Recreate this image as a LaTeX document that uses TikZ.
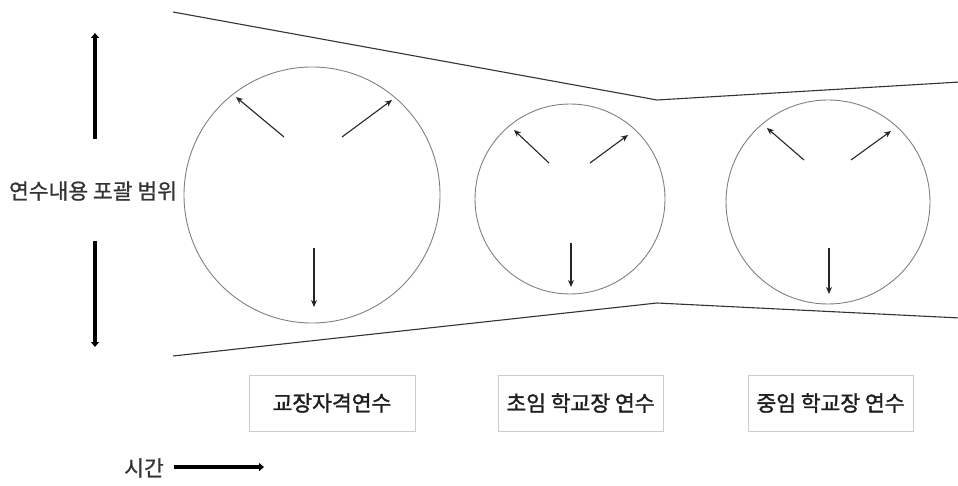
\documentclass[tikz,border=0pt]{standalone}
\usepackage{fontspec}
\setmainfont{Noto Sans CJK KR}
\newfontfamily\krbox{Noto Sans CJK KR}[FakeBold=1.6]
\newfontfamily\krlab{Noto Sans CJK KR}[FakeBold=0.8]
\usetikzlibrary{arrows.meta,calc}
\begin{document}
\begin{tikzpicture}[x=1pt,y=-1pt,
  funnel/.style={draw=black!80, line width=1.1pt},
  circ/.style={circle, draw=black!50, line width=0.9pt, inner sep=0pt},
  inarrow/.style={draw=black!85, line width=1.1pt, -{Stealth[length=7pt,width=6pt]}},
  bigarrow/.style={draw=black, line width=4.2pt, -{Triangle[length=5pt,width=8pt]}},
  labelbox/.style={draw=black!20, line width=0.9pt, minimum width=166pt, minimum height=56pt, inner sep=0pt, text=black!88, font=\krbox\fontsize{21.5}{24}\selectfont},
  txt/.style={font=\krlab\fontsize{21.5}{24}\selectfont, text=black!80, inner sep=0pt}]
\useasboundingbox (0,0) rectangle (958,486);
% funnel
\coordinate (t1) at (173,12); \coordinate (t2) at (657,100); \coordinate (t3) at (960,82);
\coordinate (b1) at (173,356); \coordinate (b2) at (657,303); \coordinate (b3) at (960,318);
\draw[funnel] (t1) -- (t2) -- (t3);
\draw[funnel] (b1) -- (b2) -- (b3);
% circles
\node[circ, minimum size=256pt] (c1) at (312,195) {};
\node[circ, minimum size=190pt] (c2) at (570,199) {};
\node[circ, minimum size=204pt] (c3) at (828,202) {};
% arrows in circle 1
\coordinate (a1s) at (284,137); \coordinate (a1e) at (236,97);
\coordinate (a2s) at (342,137); \coordinate (a2e) at (392,100);
\coordinate (a3s) at (314,248); \coordinate (a3e) at (314,307);
\draw[inarrow] (a1s) -- (a1e);
\draw[inarrow] (a2s) -- (a2e);
\draw[inarrow] (a3s) -- (a3e);
% circle 2
\coordinate (b1s) at (549,163); \coordinate (b1e) at (514,130);
\coordinate (b2s) at (590,163); \coordinate (b2e) at (628,135);
\coordinate (b3s) at (571,243); \coordinate (b3e) at (571,287);
\draw[inarrow] (b1s) -- (b1e);
\draw[inarrow] (b2s) -- (b2e);
\draw[inarrow] (b3s) -- (b3e);
% circle 3
\coordinate (d1s) at (804,160); \coordinate (d1e) at (767,128);
\coordinate (d2s) at (851,160); \coordinate (d2e) at (891,131);
\coordinate (d3s) at (829,248); \coordinate (d3e) at (829,294);
\draw[inarrow] (d1s) -- (d1e);
\draw[inarrow] (d2s) -- (d2e);
\draw[inarrow] (d3s) -- (d3e);
% left scope label
\node[txt] (scope) at (93,191) {연수내용 포괄 범위};
\coordinate (up1) at (95,139); \coordinate (up2) at (95,33);
\coordinate (dn1) at (95,241); \coordinate (dn2) at (95,347);
\draw[bigarrow] (up1) -- (up2);
\draw[bigarrow] (dn1) -- (dn2);
% boxes
\node[labelbox] (box1) at (332,403) {교장자격연수};
\node[labelbox, minimum width=165pt] (box2) at (580.5,403) {초임 학교장 연수};
\node[labelbox, minimum width=165pt] (box3) at (830.5,403) {중임 학교장 연수};
% time
\node[txt, anchor=east] (time) at (164,468) {시간};
\coordinate (tm1) at (174,467); \coordinate (tm2) at (264,467);
\draw[bigarrow, line width=3.6pt] (tm1) -- (tm2);
\end{tikzpicture}
\end{document}
